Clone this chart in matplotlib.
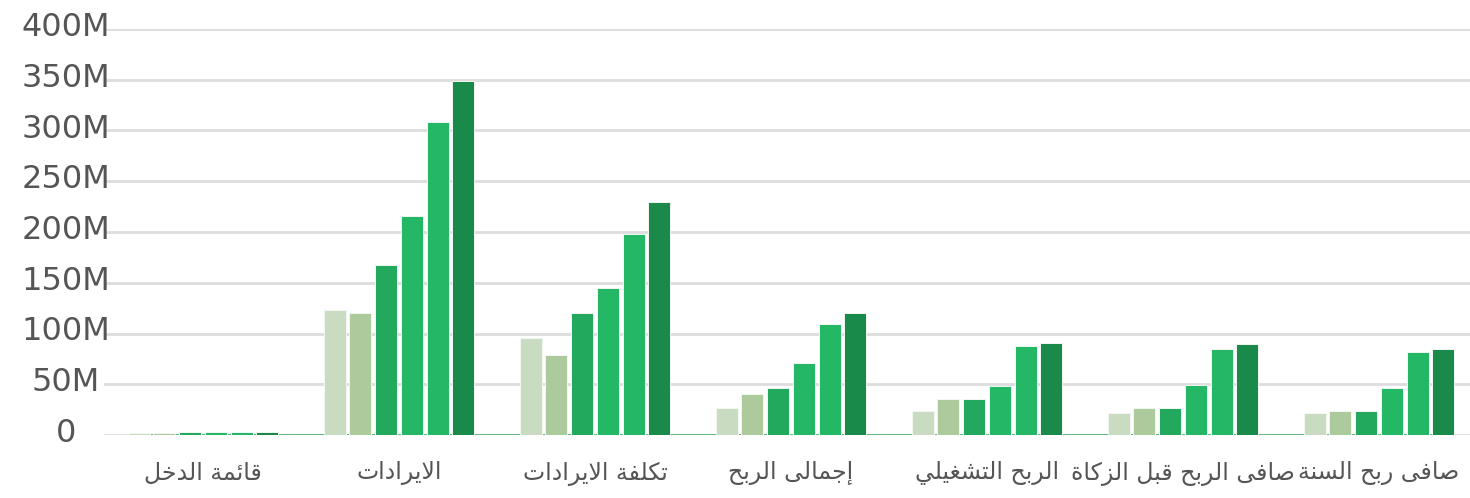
import matplotlib
matplotlib.use('Agg')
import matplotlib.pyplot as plt
from matplotlib.transforms import ScaledTranslation
import numpy as np

plt.rcParams['font.family'] = ['DejaVu Sans']

categories = ['قائمة الدخل', 'الايرادات', 'تكلفة الايرادات', 'إجمالى الربح',
              'الربح التشغيلي', 'صافى الربح قبل الزكاة', 'صافى ربح السنة']

# values in millions, one list per series (left to right inside each group)
series_1 = [2, 123, 95.5, 26.5, 24, 21.5, 21.5]
series_2 = [2, 120, 79, 40.5, 35, 27, 24]
series_3 = [2.5, 167, 120, 46, 35, 27, 24]
series_4 = [2.5, 216, 145, 71, 48.5, 49, 46]
series_5 = [2.5, 308, 198, 109, 87.5, 85, 82]
series_6 = [2.5, 349, 230, 120, 90.5, 90, 84.5]

y_ticks = [0, 50, 100, 150, 200, 250, 300, 350, 400]
y_tick_labels = ['0', '50M', '100M', '150M', '200M', '250M', '300M', '350M', '400M']

colors = ['#c9dbc1', '#adca9d', '#22a95e', '#24b866', '#24b866', '#1a8a4a']

# matplotlib has no arabic shaping, so pick the contextual forms by hand
FORMS = {
    'ا': ('\ufe8d', '\ufe8e', None, None),
    'إ': ('\ufe87', '\ufe88', None, None),
    'ئ': ('\ufe89', '\ufe8a', '\ufe8b', '\ufe8c'),
    'ب': ('\ufe8f', '\ufe90', '\ufe91', '\ufe92'),
    'ة': ('\ufe93', '\ufe94', None, None),
    'ت': ('\ufe95', '\ufe96', '\ufe97', '\ufe98'),
    'ج': ('\ufe9d', '\ufe9e', '\ufe9f', '\ufea0'),
    'ح': ('\ufea1', '\ufea2', '\ufea3', '\ufea4'),
    'خ': ('\ufea5', '\ufea6', '\ufea7', '\ufea8'),
    'د': ('\ufea9', '\ufeaa', None, None),
    'ر': ('\ufead', '\ufeae', None, None),
    'ز': ('\ufeaf', '\ufeb0', None, None),
    'س': ('\ufeb1', '\ufeb2', '\ufeb3', '\ufeb4'),
    'ش': ('\ufeb5', '\ufeb6', '\ufeb7', '\ufeb8'),
    'ص': ('\ufeb9', '\ufeba', '\ufebb', '\ufebc'),
    'غ': ('\ufecd', '\ufece', '\ufecf', '\ufed0'),
    'ف': ('\ufed1', '\ufed2', '\ufed3', '\ufed4'),
    'ق': ('\ufed5', '\ufed6', '\ufed7', '\ufed8'),
    'ك': ('\ufed9', '\ufeda', '\ufedb', '\ufedc'),
    'ل': ('\ufedd', '\ufede', '\ufedf', '\ufee0'),
    'م': ('\ufee1', '\ufee2', '\ufee3', '\ufee4'),
    'ن': ('\ufee5', '\ufee6', '\ufee7', '\ufee8'),
    'ى': ('\ufeef', '\ufef0', None, None),
    'ي': ('\ufef1', '\ufef2', '\ufef3', '\ufef4'),
    'لا': ('\ufefb', '\ufefc', None, None),
    'لإ': ('\ufef9', '\ufefa', None, None),
}


def shape(text):
    tokens = []
    i = 0
    while i < len(text):
        if text[i] == 'ل' and i + 1 < len(text) and text[i + 1] in 'اإ':
            tokens.append(text[i:i + 2])
            i += 2
        else:
            tokens.append(text[i])
            i += 1

    def dual(t):
        return t in FORMS and FORMS[t][2] is not None

    out = []
    for k, t in enumerate(tokens):
        if t not in FORMS:
            out.append(t)
            continue
        prev = tokens[k - 1] if k > 0 else None
        nxt = tokens[k + 1] if k + 1 < len(tokens) else None
        a = prev is not None and dual(prev)
        b = dual(t) and nxt in FORMS
        f = FORMS[t]
        if a and b:
            out.append(f[3])
        elif a:
            out.append(f[1])
        elif b:
            out.append(f[2])
        else:
            out.append(f[0])
    return ''.join(reversed(out))


fig = plt.figure(figsize=(14.7, 4.98), dpi=100)
ax = fig.add_axes([104 / 1470, 1 - 435 / 498, 1 - 104 / 1470, 406 / 498])

x = np.arange(len(categories))
step = 0.1315
width = 0.112
all_series = [series_1, series_2, series_3, series_4, series_5, series_6]
for i, vals in enumerate(all_series):
    ax.bar(x + (i - 2.5) * step, vals, width, color=colors[i],
           edgecolor='#f2f7f2', linewidth=0.7, zorder=3)

edge = 2.5 * step + width / 2
ax.plot([-edge, len(categories) - 1 + edge], [0, 0], color='#5cb67f', lw=1.4, zorder=2,
        solid_capstyle='butt')

ax.set_xlim(-99 / 196, 1267 / 196)
ax.set_ylim(0, 400)

ax.set_yticks(y_ticks)
ax.set_yticklabels(y_tick_labels, fontsize=23, color='#555555', ha='center')
ax.tick_params(axis='y', length=0, pad=27.4)
# labels sit a little above their grid line
for lab in ax.get_yticklabels():
    lab.set_transform(lab.get_transform() + ScaledTranslation(0, 5 / 100, fig.dpi_scale_trans))
ax.yaxis.grid(True, color='#dddddd', linewidth=2, zorder=0)
ax.set_axisbelow(True)

ax.set_xticks(x)
ax.set_xticklabels([shape(c) for c in categories], fontsize=17, color='#555555')
ax.tick_params(axis='x', length=0, pad=19)

for s in ax.spines.values():
    s.set_visible(False)

fig.savefig('out.png', dpi=100)
